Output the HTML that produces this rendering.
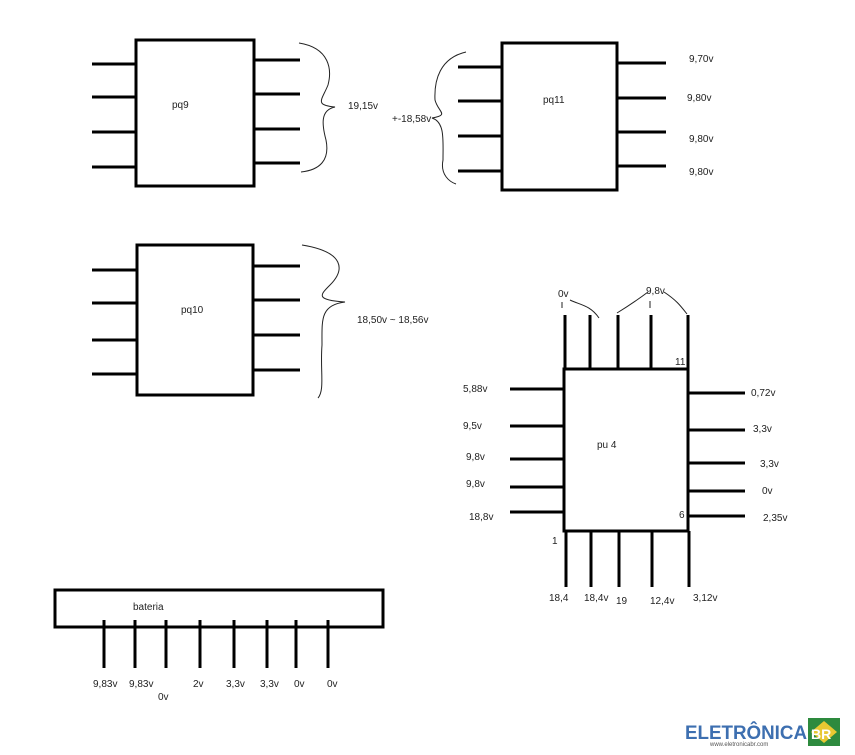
<!DOCTYPE html>
<html><head><meta charset="utf-8"><style>
body{margin:0;background:#fff;width:855px;height:750px;overflow:hidden}
svg text{font-family:"Liberation Sans",sans-serif;font-size:10px;fill:#222}
</style></head><body>
<svg width="855" height="750" viewBox="0 0 855 750" xmlns="http://www.w3.org/2000/svg">
<g fill="none" stroke="#000" stroke-width="3">
<rect x="136" y="40" width="118" height="146"/>
<path d="M92 64H136M92 97H136M92 132H136M92 167H136M254 60H300M254 94H300M254 129H300M254 163H300"/>
<rect x="502" y="43" width="115" height="147"/>
<path d="M458 67H502M458 101H502M458 136H502M458 171H502M617 63H666M617 98H666M617 132H666M617 166H666"/>
<rect x="137" y="245" width="116" height="150"/>
<path d="M92 270H137M92 303H137M92 340H137M92 374H137M253 266H300M253 300H300M253 335H300M253 370H300"/>
<rect x="564" y="369" width="124" height="162"/>
<path d="M565 315V369M590 315V369M618 315V369M651 315V369M688 315V369"/>
<path d="M510 389H564M510 426H564M510 459H564M510 487H564M510 512H564"/>
<path d="M688 393H745M688 430H745M688 463H745M688 491H745M688 516H745"/>
<path d="M566 531V587M591 531V587M619 531V587M652 531V587M689 531V587"/>
<rect x="55" y="590" width="328" height="37"/>
<path d="M104 620V668M135 620V668M166 620V668M200 620V668M234 620V668M267 620V668M296 620V668M328 620V668"/>
</g>
<g fill="none" stroke="#222" stroke-width="1">
<path d="M299 43C330 48 332 70 328 85C322 100 314 105 335 107C320 110 322 125 326 140C330 160 320 170 301 172"/>
<path d="M466 52C440 58 434 80 435 100C438 112 450 115 432 118C445 122 443 140 443 160C440 175 450 182 456 184"/>
<path d="M302 245C345 252 345 270 330 285C320 295 315 300 345 302C320 305 322 320 322 345C320 370 325 390 318 398"/>
<path d="M562 302V308M570 300C580 305 590 305 599 318M617 313C630 305 640 298 648 292M650 301V308M664 292C676 300 680 305 687 314"/>
</g>
<text x="172" y="108">pq9</text>
<text x="348" y="109">19,15v</text>
<text x="392" y="122">+-18,58v</text>
<text x="543" y="103">pq11</text>
<text x="689" y="62">9,70v</text>
<text x="687" y="101">9,80v</text>
<text x="689" y="142">9,80v</text>
<text x="689" y="175">9,80v</text>
<text x="181" y="313">pq10</text>
<text x="357" y="323">18,50v ~ 18,56v</text>
<text x="558" y="297">0v</text>
<text x="646" y="294">9,8v</text>
<text x="675" y="365">11</text>
<text x="597" y="448">pu  4</text>
<text x="463" y="392">5,88v</text>
<text x="463" y="429">9,5v</text>
<text x="466" y="460">9,8v</text>
<text x="466" y="487">9,8v</text>
<text x="469" y="520">18,8v</text>
<text x="751" y="396">0,72v</text>
<text x="753" y="432">3,3v</text>
<text x="760" y="467">3,3v</text>
<text x="762" y="494">0v</text>
<text x="763" y="521">2,35v</text>
<text x="679" y="518">6</text>
<text x="552" y="544">1</text>
<text x="549" y="601">18,4</text>
<text x="584" y="601">18,4v</text>
<text x="616" y="604">19</text>
<text x="650" y="604">12,4v</text>
<text x="693" y="601">3,12v</text>
<text x="133" y="610">bateria</text>
<text x="93" y="687">9,83v</text>
<text x="129" y="687">9,83v</text>
<text x="158" y="700">0v</text>
<text x="193" y="687">2v</text>
<text x="226" y="687">3,3v</text>
<text x="260" y="687">3,3v</text>
<text x="294" y="687">0v</text>
<text x="327" y="687">0v</text>
<text x="685" y="739" textLength="122" lengthAdjust="spacingAndGlyphs" style="font-size:19px;font-weight:bold;fill:#3d6fb0">ELETRÔNICA</text>
<text x="710" y="746" style="font-size:6px;fill:#555">www.eletronicabr.com</text>
<rect x="808" y="718" width="32" height="28" fill="#2d8a3e"/>
<path d="M811 732L824 721L837 732L824 743Z" fill="#e8c832"/>
<text x="811" y="739" style="font-size:14px;font-weight:bold;fill:#fff">BR</text>
</svg>
</body></html>
